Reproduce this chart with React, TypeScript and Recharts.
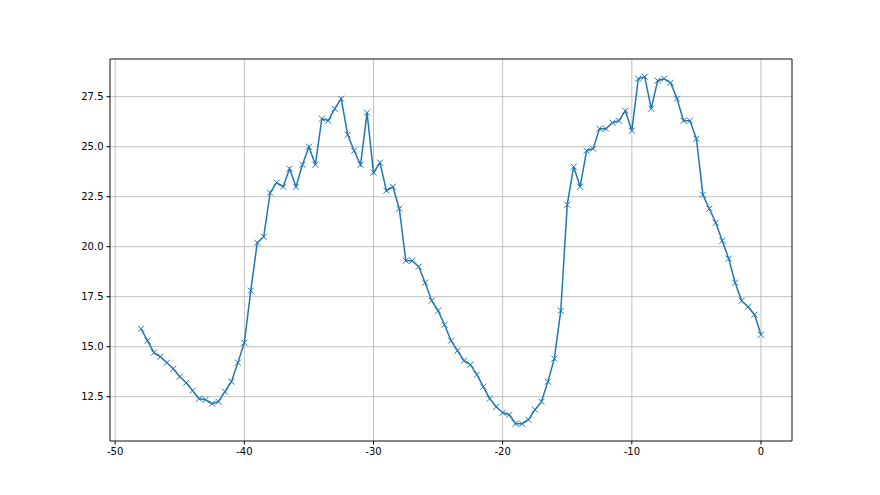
import {
  LineChart,
  Line,
  CartesianGrid,
  XAxis,
  YAxis,
  ReferenceArea,
} from "recharts";

const xStart = -48;
const xStep = 0.5;

const values = [
  15.9, 15.3, 14.7, 14.5, 14.2, 13.9, 13.5, 13.2, 12.8, 12.4, 12.35, 12.15,
  12.25, 12.75, 13.25, 14.2, 15.2, 17.8, 20.2, 20.5, 22.7, 23.2, 23.0, 23.9,
  23.0, 24.1, 25.0, 24.1, 26.4, 26.3, 26.9, 27.4, 25.6, 24.8, 24.1, 26.7,
  23.7, 24.2, 22.8, 23.0, 21.9, 19.3, 19.3, 19.0, 18.2, 17.3, 16.8, 16.1,
  15.3, 14.8, 14.3, 14.1, 13.6, 13.0, 12.4, 12.0, 11.7, 11.6, 11.15, 11.15,
  11.35, 11.85, 12.25, 13.25, 14.4, 16.8, 22.1, 24.0, 23.0, 24.8, 24.9, 25.9,
  25.9, 26.2, 26.3, 26.8, 25.8, 28.4, 28.5, 26.9, 28.3, 28.4, 28.2, 27.4,
  26.3, 26.3, 25.4, 22.6, 21.9, 21.2, 20.3, 19.4, 18.2, 17.3, 17.0, 16.6,
  15.6,
];

const xTicks = [-50, -40, -30, -20, -10, 0];
const yTicks = [12.5, 15.0, 17.5, 20.0, 22.5, 25.0, 27.5];

const data = values.map((v, i) => ({ x: xStart + i * xStep, y: v }));

const X_DOMAIN: [number, number] = [-50.4, 2.4];
const Y_DOMAIN: [number, number] = [10.285, 29.385];

function CrossDot(props: any) {
  const { cx, cy } = props;
  if (cx == null || cy == null) return null;
  const r = 3;
  return (
    <g stroke="#1f77b4" strokeWidth={1}>
      <line x1={cx - r} y1={cy - r} x2={cx + r} y2={cy + r} />
      <line x1={cx - r} y1={cy + r} x2={cx + r} y2={cy - r} />
    </g>
  );
}

const tickStyle = { fill: "#000", fontSize: 10, fontFamily: "DejaVu Sans" };

export default function App() {
  return (
    <div style={{ position: "absolute", left: 0, top: 0, background: "#fff" }}>
      <LineChart
        width={880}
        height={495}
        data={data}
        margin={{ top: 59, right: 88, left: 0, bottom: 0 }}
      >
        <CartesianGrid stroke="#b0b0b0" strokeWidth={0.8} />
        <XAxis
          dataKey="x"
          type="number"
          domain={X_DOMAIN}
          ticks={xTicks}
          height={54}
          tick={tickStyle}
          tickSize={3.5}
          tickMargin={3}
          stroke="#000"
          axisLine={false}
          tickLine={{ stroke: "#000" }}
          allowDataOverflow
        />
        <YAxis
          type="number"
          domain={Y_DOMAIN}
          ticks={yTicks}
          width={110}
          tick={tickStyle}
          tickSize={3.5}
          tickMargin={3}
          tickFormatter={(v: number) => v.toFixed(1)}
          axisLine={false}
          tickLine={{ stroke: "#000" }}
          allowDataOverflow
        />
        <ReferenceArea
          x1={X_DOMAIN[0]}
          x2={X_DOMAIN[1]}
          y1={Y_DOMAIN[0]}
          y2={Y_DOMAIN[1]}
          fill="none"
          stroke="#000"
          strokeWidth={0.8}
          fillOpacity={0}
        />
        <Line
          dataKey="y"
          type="linear"
          stroke="#1f77b4"
          strokeWidth={1.5}
          dot={<CrossDot />}
          activeDot={false}
          isAnimationActive={false}
        />
      </LineChart>
    </div>
  );
}
